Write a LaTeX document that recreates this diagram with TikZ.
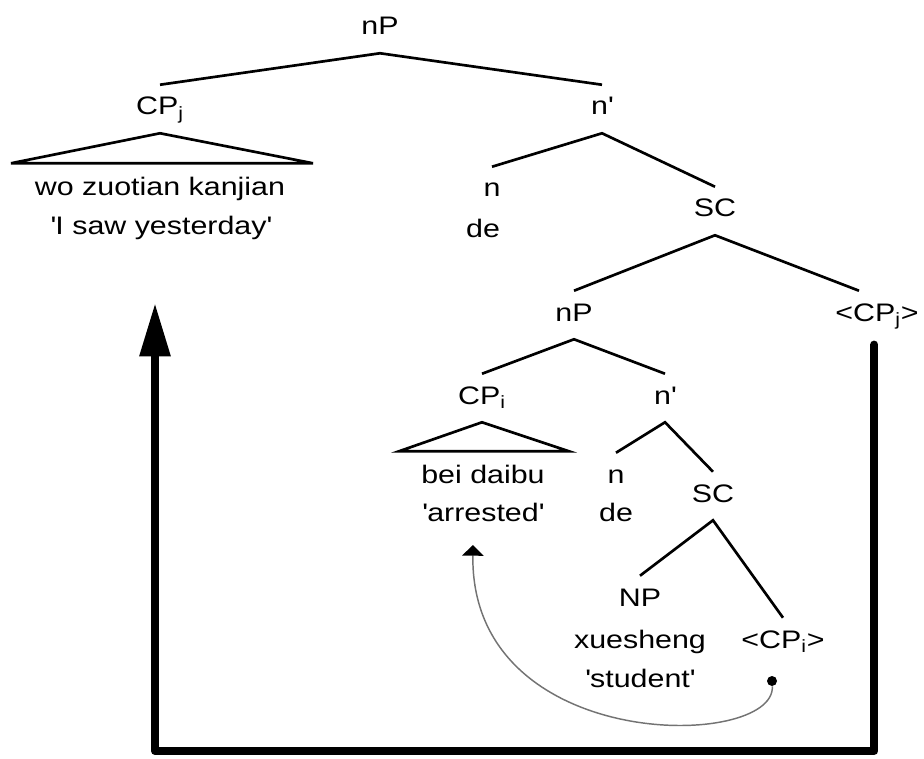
\documentclass[tikz,border=0pt]{standalone}
\usepackage{fontspec}
\setmainfont[FakeStretch=1.2]{Liberation Sans}
\usetikzlibrary{arrows.meta}
\newcommand{\sq}{\textquotesingle}

\begin{document}
\begin{tikzpicture}[x=0.75pt, y=-0.75pt,
  font=\fontsize{19}{23}\selectfont,
  cat/.style={inner xsep=0pt, inner ysep=9.75pt, text height=12.75pt,
              text depth=3.75pt, anchor=base},
  word/.style={inner sep=0pt, anchor=base},
  branch/.style={line width=2pt},
  bigmove/.style={line width=6pt, line join=round, line cap=round,
                  -{Triangle[length=40pt,width=22pt]}},
  smallmove/.style={line width=1.1pt, black!55,
                    -{Triangle[length=8pt,width=16pt,color=black]}},
]
\useasboundingbox (0,0) rectangle (924,759);

% Top nP
\node[cat] (np1) at (380,35) {nP};
\node[cat] (cpj) at (160,115) {CP\textsubscript{j}};
\node[cat] (nbar1) at (602,115) {n\sq};
\draw[branch] (cpj.north) -- (np1.south) -- (nbar1.north);

% Relative clause CPj
\draw[branch] (cpj.south) -- ++(-149,30) -- ++(302,0) -- cycle;
\node[word] (wo) at (160,196) {wo zuotian kanjian};
\node[word] (wog) at (161,235) {\sq I saw yesterday\sq};

% n' and small clause
\node[cat] (n1) at (492,197) {n};
\node[word] (de1) at (483,238) {de};
\node[cat] (sc1) at (715,217) {SC};
\draw[branch] (n1.north) -- (nbar1.south) -- (sc1.north);

\node[cat] (np2) at (574,321) {nP};
\node[cat] (cpjt) at (877,321) {<CP\textsubscript{j}>};
\draw[branch] (np2.north) -- (sc1.south) -- ([xshift=-13.5pt]cpjt.north);

% Inner nP
\node[cat] (cpi) at (482,404) {CP\textsubscript{i}};
\node[cat] (nbar2) at (665,404) {n\sq};
\draw[branch] (cpi.north) -- (np2.south) -- (nbar2.north);

\draw[branch] (cpi.south) -- ++(-83,29) -- ++(170,0) -- cycle;
\node[word] (bei) at (483,483) {bei daibu};
\node[word] (beig) at (483,521) {\sq arrested\sq};

\node[cat] (n2) at (616,483) {n};
\node[word] (de2) at (616,521) {de};
\node[cat] (sc2) at (713,502) {SC};
\draw[branch] (n2.north) -- (nbar2.south) -- (sc2.north);

\node[cat] (np3) at (640,606) {NP};
\node[cat] (cpit) at (783,648) {<CP\textsubscript{i}>};
\draw[branch] (np3.north) -- (sc2.south) -- (cpit.north);
\node[word] (xue) at (640,648) {xuesheng};
\node[word] (xueg) at (640,687) {\sq student\sq};

% Movement of CPi
\node[circle, fill, inner sep=0pt, minimum size=7.5pt] (trace) at (772,681) {};
\coordinate (landi) at (473,545);
\draw[smallmove] (trace) .. controls (776,750) and (470,755) .. (landi);

% Movement of CPj
\coordinate (foot) at (155,751);
\coordinate (landj) at (155,303);
\draw[bigmove] ([xshift=-2pt,yshift=-4pt]cpjt.south) |- (foot) -- (landj);
\end{tikzpicture}
\end{document}
